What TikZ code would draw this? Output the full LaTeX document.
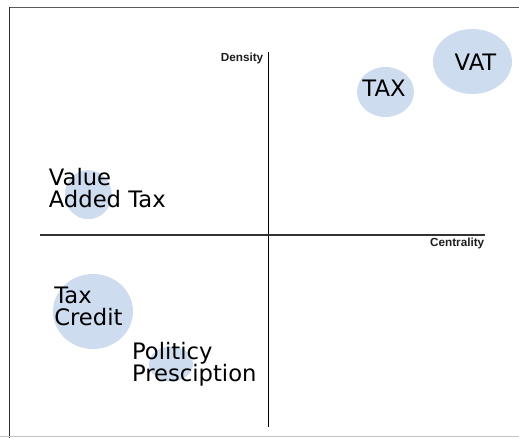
\documentclass[tikz,border=0pt]{standalone}
\usepackage{fontspec}
\setmainfont{DejaVu Sans}
\newfontfamily\axisfont{Liberation Sans}
\usetikzlibrary{shapes.geometric}

\definecolor{bubbleblue}{RGB}{206,220,240}

\begin{document}
\begin{tikzpicture}[x=0.75pt,y=0.75pt,yscale=-1,xscale=1,
  bubble/.style={ellipse,fill=bubbleblue,draw=none,inner sep=0pt},
  term/.style={inner sep=0pt,align=left,font={\fontsize{17}{16.5}\selectfont}},
  axislabel/.style={inner sep=0pt,font={\axisfont\bfseries\fontsize{8.8}{10}\selectfont},color={rgb, 255:red, 30; green, 30; blue, 30 }},
  axisline/.style={line width=0.9pt}]
%set diagram size
\useasboundingbox (0,0) rectangle (519,438);

%Frame
\coordinate (frameTL) at (9.5,7.3);
\coordinate (frameTR) at (519,7.3);
\coordinate (frameBL) at (9.5,438);
\coordinate (bottomL) at (0,436.8);
\coordinate (bottomR) at (519,436.8);
\draw [color={rgb, 255:red, 90; green, 90; blue, 90 }, line width=1.1pt] (frameTL) -- (frameTR) ;
\draw [color={rgb, 255:red, 45; green, 45; blue, 45 }, line width=1.1pt] (frameTL) -- (frameBL) ;
\draw [color={rgb, 255:red, 195; green, 195; blue, 195 }, line width=1pt] (bottomL) -- (bottomR) ;

%Shape: Ellipse
\node [bubble, minimum width=59.25pt, minimum height=48.75pt] (vatBubble) at (472.5,61.5) {};
%Shape: Ellipse
\node [bubble, minimum width=42.75pt, minimum height=37.5pt] (taxBubble) at (385.5,92) {};
%Shape: Ellipse
\node [bubble, minimum width=35.25pt, minimum height=36.75pt] (valueBubble) at (88.3,194.7) {};
%Shape: Ellipse
\node [bubble, minimum width=60pt, minimum height=56.25pt] (creditBubble) at (93,311.5) {};
%Shape: Ellipse
\node [bubble, minimum width=33pt, minimum height=26.25pt] (policyBubble) at (171,364) {};

%Straight Lines
\coordinate (yTop) at (268.5,52);
\coordinate (yBottom) at (268.5,427);
\draw [axisline] (yTop) -- (yBottom) ;
%Straight Lines
\coordinate (xLeft) at (40,235);
\coordinate (xRight) at (485,235);
\draw [axisline, color={rgb, 255:red, 50; green, 50; blue, 50 }] (xLeft) -- (xRight) ;

% Text Node
\node [axislabel, anchor=base east] (density) at (263.5,61.5) {Density};
% Text Node
\node [axislabel, anchor=base east] (centrality) at (484.5,247) {Centrality};

% Text Node
\node [term, anchor=base] (vatText) at (475.5,71) {VAT};
% Text Node
\node [term, anchor=base] (taxText) at (384,97) {TAX};
% Text Node
\node [term, anchor=north west] (valueText) at (48.6,168.3) {Value\\Added Tax};
% Text Node
\node [term, anchor=north west] (creditText) at (54,287) {Tax\\Credit};
% Text Node
\node [term, anchor=north west] (policyText) at (131.8,342.3) {Politicy\\Presciption};

\end{tikzpicture}
\end{document}
